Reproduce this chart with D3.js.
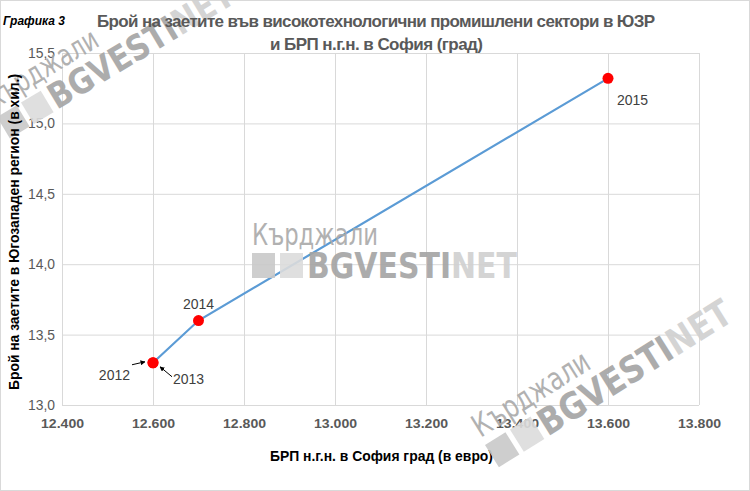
<!DOCTYPE html>
<html>
<head>
<meta charset="utf-8">
<script src="https://cdn.jsdelivr.net/npm/d3@7"></script>
<style>
  body { margin: 0; background: #fff; }
  svg { display: block; }
  .tick text { fill: #595959; }
</style>
</head>
<body>
<svg width="750" height="491"></svg>
<script>
const years = ['2012', '2013', '2014', '2015'];
const gdp = [12600, 12600, 12700, 13600];          // БРП н.г.н., евро
const employed = [13.3, 13.3, 13.6, 15.32];        // хил. заети
const xTicks = [12400, 12600, 12800, 13000, 13200, 13400, 13600, 13800];
const yTicks = [13.0, 13.5, 14.0, 14.5, 15.0, 15.5];

const svg = d3.select('svg');
const width = +svg.attr('width');
const height = +svg.attr('height');

const narrow = '"Liberation Sans Narrow", "DejaVu Sans Condensed", Arial, sans-serif';
const arial = '"Liberation Sans", Arial, sans-serif';

const margin = { top: 53, right: 51, bottom: 86, left: 62 };
const innerWidth = width - margin.left - margin.right;
const innerHeight = height - margin.top - margin.bottom;

// bg-locale: "12.400", "13,5"
const bg = d3.formatLocale({ decimal: ',', thousands: '.', grouping: [3], currency: ['', ''] });

const xScale = d3.scaleLinear().domain([12400, 13800]).range([0, innerWidth]);
const yScale = d3.scaleLinear().domain([13, 15.5]).range([innerHeight, 0]);

svg.append('rect')
    .attr('x', 0.5).attr('y', 0.5)
    .attr('width', width - 1).attr('height', height - 1)
    .attr('fill', '#fff').attr('stroke', '#d9d9d9');

const g = svg.append('g')
    .attr('transform', `translate(${margin.left},${margin.top})`);

// grid
const xAxisG = g.append('g')
    .attr('transform', `translate(0,${innerHeight})`)
    .call(d3.axisBottom(xScale).tickValues(xTicks)
        .tickFormat(bg.format(',.0f'))
        .tickSize(-innerHeight).tickPadding(14));
xAxisG.select('.domain').remove();
xAxisG.selectAll('.tick line').attr('stroke', '#d9d9d9');
xAxisG.selectAll('.tick text')
    .attr('font-family', arial).attr('font-size', 13).attr('font-weight', 'bold')
    .attr('textLength', 43).attr('lengthAdjust', 'spacingAndGlyphs');

const yAxisG = g.append('g')
    .call(d3.axisLeft(yScale).tickValues(yTicks)
        .tickFormat(bg.format('.1f'))
        .tickSize(-innerWidth).tickPadding(7));
yAxisG.select('.domain').remove();
yAxisG.selectAll('.tick line').attr('stroke', '#d9d9d9');
yAxisG.selectAll('.tick text')
    .attr('font-family', arial).attr('font-size', 14)
    .attr('textLength', 27).attr('lengthAdjust', 'spacingAndGlyphs');

// watermarks
const watermark = (x, y, angle, s) => {
    const w = svg.append('g')
        .attr('transform', `translate(${x},${y}) rotate(${angle}) scale(${s})`)
        .attr('opacity', 0.9);
    w.append('text')
        .attr('y', -8)
        .attr('font-family', narrow).attr('font-size', 30)
        .attr('textLength', 126).attr('lengthAdjust', 'spacingAndGlyphs')
        .attr('fill', '#a9a9a9')
        .text('Кърджали');
    w.append('rect').attr('width', 23).attr('height', 25).attr('fill', '#c9c9c9');
    w.append('rect').attr('x', 28).attr('width', 23).attr('height', 25).attr('fill', '#dcdcdc');
    const t = w.append('text')
        .attr('x', 55).attr('y', 25)
        .attr('font-family', narrow).attr('font-size', 35).attr('font-weight', 'bold')
        .attr('textLength', 210).attr('lengthAdjust', 'spacingAndGlyphs');
    t.append('tspan').attr('fill', '#a4a4a4').text('BGVESTI');
    t.append('tspan').attr('fill', '#d0d0d0').text('NET');
};
watermark(252, 253, 0, 1);
watermark(-3, 117, -31, 1);
watermark(485, 445, -32, 1.05);

// line and points
const pts = years.map((yr, i) => ({ year: yr, x: gdp[i], y: employed[i] }));

g.append('path')
    .datum(pts)
    .attr('fill', 'none')
    .attr('stroke', '#5b9bd5')
    .attr('stroke-width', 2.2)
    .attr('d', d3.line().x(d => xScale(d.x)).y(d => yScale(d.y)));

g.selectAll('circle').data(pts)
    .enter().append('circle')
        .attr('cx', d => xScale(d.x))
        .attr('cy', d => yScale(d.y))
        .attr('r', 5.5)
        .attr('fill', '#ff0000');

// year labels, offset from their point
const labelPos = {
    '2012': { dx: -23, dy: 17, anchor: 'end' },
    '2013': { dx: 20, dy: 21, anchor: 'start' },
    '2014': { dx: 0, dy: -12, anchor: 'middle' },
    '2015': { dx: 9, dy: 27, anchor: 'start' }
};
g.selectAll('.yr').data(pts)
    .enter().append('text')
        .attr('class', 'yr')
        .attr('x', d => xScale(d.x) + labelPos[d.year].dx)
        .attr('y', d => yScale(d.y) + labelPos[d.year].dy)
        .attr('text-anchor', d => labelPos[d.year].anchor)
        .attr('font-family', arial).attr('font-size', 14)
        .attr('fill', '#404040')
        .text(d => d.year);

// small arrows for the overlapping 2012 / 2013 points
svg.append('defs').append('marker')
    .attr('id', 'arr')
    .attr('viewBox', '0 0 10 10')
    .attr('refX', 9).attr('refY', 5)
    .attr('markerWidth', 5).attr('markerHeight', 5)
    .attr('orient', 'auto')
    .append('path').attr('d', 'M0,0L10,5L0,10z').attr('fill', '#000');

const p0 = pts[0];
const ax = xScale(p0.x), ay = yScale(p0.y);
[[ax - 21, ay + 2, ax - 8, ay - 1], [ax + 19, ay + 14, ax + 7, ay + 4]].forEach(a => {
    g.append('line')
        .attr('x1', a[0]).attr('y1', a[1]).attr('x2', a[2]).attr('y2', a[3])
        .attr('stroke', '#000').attr('stroke-width', 1)
        .attr('marker-end', 'url(#arr)');
});

// titles
svg.append('text')
    .attr('x', 3).attr('y', 25)
    .attr('font-family', arial).attr('font-size', 13)
    .attr('font-weight', 'bold').attr('font-style', 'italic')
    .attr('textLength', 62).attr('lengthAdjust', 'spacingAndGlyphs')
    .attr('fill', '#000')
    .text('Графика 3');

const title = svg.append('text')
    .attr('font-family', arial).attr('font-size', 17).attr('font-weight', 'bold')
    .attr('lengthAdjust', 'spacingAndGlyphs')
    .attr('fill', '#595959');
title.append('tspan').attr('x', 97).attr('y', 27)
    .attr('textLength', 558)
    .text('Брой на заетите във високотехнологични промишлени сектори в ЮЗР');
title.append('tspan').attr('x', 270).attr('y', 50)
    .attr('textLength', 213)
    .text('и БРП н.г.н. в София (град)');

g.append('text')
    .attr('x', 270 - margin.left)
    .attr('y', innerHeight + 56)
    .attr('font-family', arial).attr('font-size', 14).attr('font-weight', 'bold')
    .attr('textLength', 223).attr('lengthAdjust', 'spacingAndGlyphs')
    .attr('fill', '#000')
    .text('БРП н.г.н. в София град (в евро)');

svg.append('text')
    .attr('transform', `translate(19,390) rotate(-90)`)
    .attr('font-family', arial).attr('font-size', 14).attr('font-weight', 'bold')
    .attr('textLength', 316).attr('lengthAdjust', 'spacingAndGlyphs')
    .attr('fill', '#000')
    .text('Брой на заетите в Югозападен регион (в хил.)');
</script>
</body>
</html>
